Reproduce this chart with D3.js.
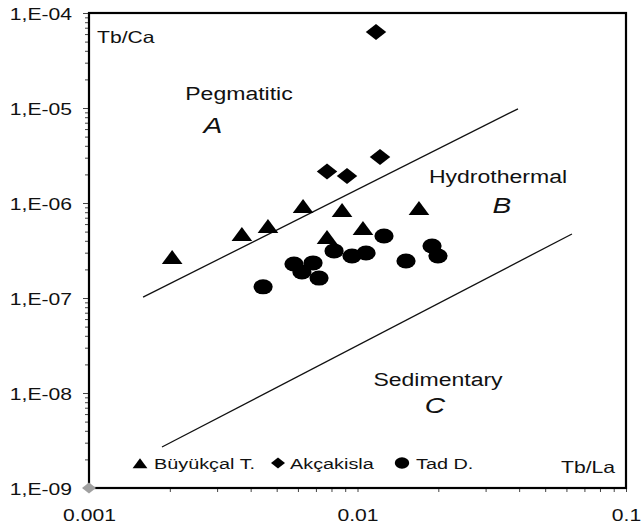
<!DOCTYPE html>
<html>
<head>
<meta charset="utf-8">
<script src="https://cdn.jsdelivr.net/npm/d3@7"></script>
<style>
  html, body { margin: 0; padding: 0; background: #fff; }
  svg { display: block; }
  text { font-family: "Liberation Sans", Arial, sans-serif; fill: #111; }
</style>
</head>
<body>
<svg id="chart" width="641" height="527"></svg>
<script>
// Tick values and labels
const xMajorTicks = [0.001, 0.01, 0.1];
const xMajorLabels = ["0.001", "0.01", "0.1"];
const yMajorTicks = [1e-9, 1e-8, 1e-7, 1e-6, 1e-5, 1e-4];
const yMajorLabels = ["1,E-09", "1,E-08", "1,E-07", "1,E-06", "1,E-05", "1,E-04"];

// Series: Tb/La (x) and Tb/Ca (y)
const seriesNames = ["Büyükçal T.", "Akçakisla", "Tad D."];
const buyukcalX = [0.00204, 0.00371, 0.00464, 0.00627, 0.00876, 0.00770, 0.01048, 0.01694];
const buyukcalY = [2.55e-7, 4.46e-7, 5.42e-7, 8.79e-7, 7.98e-7, 4.15e-7, 5.16e-7, 8.38e-7];
const akcakislaX = [0.01172, 0.01213, 0.00770, 0.00914];
const akcakislaY = [6.31e-5, 3.05e-6, 2.15e-6, 1.92e-6];
const tadX = [0.01255, 0.00818, 0.00954, 0.01076, 0.00580, 0.00683, 0.00621, 0.00719, 0.00445, 0.01516, 0.01895, 0.01994];
const tadY = [4.50e-7, 3.13e-7, 2.77e-7, 2.98e-7, 2.28e-7, 2.34e-7, 1.88e-7, 1.62e-7, 1.31e-7, 2.45e-7, 3.53e-7, 2.77e-7];

// Field boundaries
const pegHydroX = [0.00159, 0.0396];
const pegHydroY = [1.02e-7, 9.8e-6];
const hydroSedX = [0.00187, 0.0629];
const hydroSedY = [2.7e-9, 4.72e-7];

// Field names
const fieldNames = ["Pegmatitic", "Hydrothermal", "Sedimentary"];
const fieldLetters = ["A", "B", "C"];

const svg = d3.select("#chart");
const W = 641, H = 527;
const plotLeft = 89, plotRight = 626, plotTop = 13, plotBottom = 488;
const SX = 1.28; // horizontal stretch applied to text and markers

const x = d3.scaleLog().domain([0.001, 0.1]).range([plotLeft, plotRight]);
const y = d3.scaleLog().domain([1e-9, 1e-4]).range([plotBottom, plotTop]);

svg.append("rect").attr("width", W).attr("height", H).attr("fill", "#fff");

function minorTicks(majors) {
  const out = [];
  for (let i = 0; i < majors.length - 1; i++)
    for (let k = 2; k <= 9; k++) out.push(majors[i] * k);
  return out;
}

// Minor ticks
svg.append("g")
  .attr("transform", `translate(${plotLeft},0)`)
  .call(d3.axisLeft(y).tickValues(minorTicks(yMajorTicks)).tickSize(4).tickFormat(""))
  .call(g => g.select(".domain").remove())
  .call(g => g.selectAll("line").attr("stroke", "#444"));
svg.append("g")
  .attr("transform", `translate(0,${plotBottom})`)
  .call(d3.axisBottom(x).tickValues(minorTicks(xMajorTicks)).tickSize(4).tickFormat(""))
  .call(g => g.select(".domain").remove())
  .call(g => g.selectAll("line").attr("stroke", "#444"));

// Major ticks with labels
svg.append("g")
  .attr("transform", `translate(${plotLeft},0)`)
  .call(d3.axisLeft(y).tickValues(yMajorTicks).tickSize(6)
    .tickFormat((d, i) => yMajorLabels[i]))
  .call(g => g.select(".domain").remove())
  .call(g => g.selectAll("line").attr("stroke", "#444"))
  .call(g => g.selectAll("text")
    .attr("x", 0).attr("dy", "0.35em")
    .attr("font-size", 16.5)
    .attr("font-family", "Liberation Sans, Arial, sans-serif")
    .attr("fill", "#111")
    .attr("transform", `translate(-17,1) scale(${SX},1)`));
svg.append("g")
  .attr("transform", `translate(0,${plotBottom})`)
  .call(d3.axisBottom(x).tickValues(xMajorTicks).tickSize(4)
    .tickFormat((d, i) => xMajorLabels[i]))
  .call(g => g.select(".domain").remove())
  .call(g => g.selectAll("line").attr("stroke", "#444"))
  .call(g => g.selectAll("text")
    .attr("y", 0).attr("dy", 0)
    .attr("font-size", 16.5)
    .attr("font-family", "Liberation Sans, Arial, sans-serif")
    .attr("fill", "#111")
    .attr("transform", `translate(0,33) scale(${SX},1)`));

// Plot frame
svg.append("rect")
  .attr("x", plotLeft).attr("y", plotTop)
  .attr("width", plotRight - plotLeft).attr("height", plotBottom - plotTop)
  .attr("fill", "none").attr("stroke", "#000").attr("stroke-width", 2.2);

// Field boundaries
const line = d3.line().x(d => x(d[0])).y(d => y(d[1]));
[[pegHydroX, pegHydroY], [hydroSedX, hydroSedY]].forEach(([xs, ys]) => {
  svg.append("path")
    .attr("d", line(xs.map((v, i) => [v, ys[i]])))
    .attr("fill", "none").attr("stroke", "#111").attr("stroke-width", 1.3);
});

// Text helper with horizontal stretch
function label(px, py, str, size, anchor, italic) {
  svg.append("text")
    .attr("transform", `translate(${px},${py}) scale(${SX},1)`)
    .attr("text-anchor", anchor)
    .attr("font-size", size)
    .attr("font-style", italic ? "italic" : "normal")
    .text(str);
}

label(97, 43, "Tb/Ca", 16.5, "start");
label(615, 473, "Tb/La", 16.5, "end");

label(239, 100, fieldNames[0], 18, "middle");
label(213, 133, fieldLetters[0], 22, "middle", true);
label(498, 183, fieldNames[1], 18, "middle");
label(502, 213, fieldLetters[1], 22, "middle", true);
label(438, 386, fieldNames[2], 18, "middle");
label(435, 413, fieldLetters[2], 22, "middle", true);

// Marker shapes
const triSym = d3.symbol().type(d3.symbolTriangle);
const sqSym = d3.symbol().type(d3.symbolSquare);
const cirSym = d3.symbol().type(d3.symbolCircle);

function marker(kind, px, py, big) {
  let d, extra = "";
  if (kind === 0) d = triSym.size(big ? 113 : 58)();
  else if (kind === 1) { d = sqSym.size(big ? 128 : 60)(); extra = " rotate(45)"; }
  else d = cirSym.size(big ? 177 : 100)();
  svg.append("path")
    .attr("d", d)
    .attr("fill", "#000")
    .attr("transform", `translate(${px},${py}) scale(${SX},1)${extra}`);
}

const series = [[buyukcalX, buyukcalY], [akcakislaX, akcakislaY], [tadX, tadY]];
series.forEach(([xs, ys], k) => {
  xs.forEach((v, i) => marker(k, x(v), y(ys[i]), true));
});

// Gray marker at the axis origin
svg.append("path")
  .attr("d", sqSym.size(60)())
  .attr("fill", "#a0a0a0")
  .attr("transform", `translate(${x(0.001)},${y(1e-9)}) scale(${SX},1) rotate(45)`);

// Legend
const legendItems = [
  { sym: 0, mx: 140, tx: 154 },
  { sym: 1, mx: 278, tx: 290 },
  { sym: 2, mx: 402, tx: 416 }
];
legendItems.forEach((it, i) => {
  marker(it.sym, it.mx, it.sym === 0 ? 465 : 463, false);
  label(it.tx, 469, seriesNames[i], 15.5, "start");
});
</script>
</body>
</html>
